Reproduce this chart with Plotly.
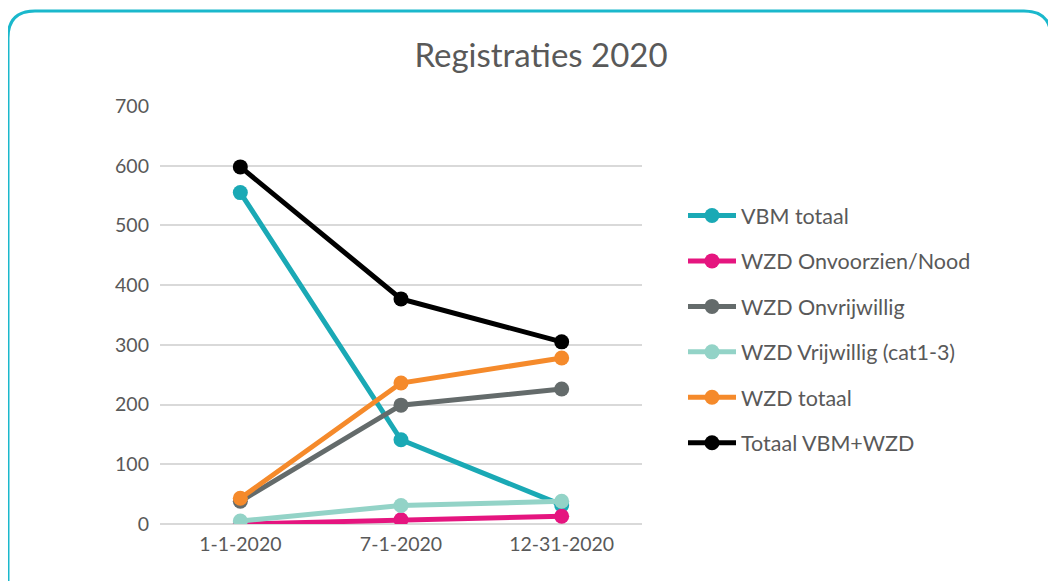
import plotly.graph_objects as go

dates = ["1-1-2020", "7-1-2020", "12-31-2020"]

vbm_totaal = [555, 141, 32]
wzd_nood = [0, 7, 13]
wzd_onvrijwillig = [38, 199, 226]
wzd_vrijwillig = [5, 31, 38]
wzd_totaal = [43, 236, 278]
totaal = [598, 377, 305]

series = [
    ("VBM totaal", vbm_totaal, "#1aa9b5"),
    ("WZD Onvoorzien/Nood", wzd_nood, "#e5157f"),
    ("WZD Onvrijwillig", wzd_onvrijwillig, "#646b6b"),
    ("WZD Vrijwillig (cat1-3)", wzd_vrijwillig, "#93d3c7"),
    ("WZD totaal", wzd_totaal, "#f58a2b"),
    ("Totaal VBM+WZD", totaal, "#000000"),
]

# page has an 8px body margin, so work in screen pixels minus 8
OFF = 8
W, H = 1056 - OFF, 581 - OFF
L, R, T, B = 160 - OFF, 642 - OFF, 106 - OFF, 524 - OFF


def px(x, y):
    # screen pixel -> paper coords
    x, y = x - OFF, y - OFF
    return (x - L) / (R - L), (B - y) / (B - T)


fig = go.Figure()
for i, (name, vals, col) in enumerate(series):
    fig.add_trace(go.Scatter(x=dates, y=vals, name=name, mode="lines+markers",
                             line=dict(color=col, width=5),
                             marker=dict(color=col, size=15),
                             legendgroup="g%d" % i))

# rounded frame
pts = [(8, 620), (8, 38), (8, 11), (35, 11), (1024, 11), (1051, 11), (1051, 38), (1051, 620)]
p = [px(*q) for q in pts]
path = "M %f,%f L %f,%f Q %f,%f %f,%f L %f,%f Q %f,%f %f,%f L %f,%f" % (
    p[0] + p[1] + p[2] + p[3] + p[4] + p[5] + p[6] + p[7])
fig.add_shape(type="path", path=path, xref="paper", yref="paper",
              line=dict(color="#1ab8cc", width=3))

fig.update_layout(
    width=W, height=H,
    margin=dict(l=L, r=W - R, t=T, b=H - B),
    paper_bgcolor="white", plot_bgcolor="white",
    font=dict(family="Lato", color="#595959", size=19.5),
    title=dict(text="Registraties 2020", x=(541 - OFF) / W, xanchor="center",
               y=1 - (55 - OFF) / H, yanchor="middle",
               font=dict(size=33, color="#595959")),
    xaxis=dict(showgrid=False, showline=False, ticks="", range=[-0.5, 2.5],
               ticklabelstandoff=6),
    yaxis=dict(range=[0, 700], dtick=100, gridcolor="#d9d9d9", gridwidth=1.5,
               zeroline=True, zerolinecolor="#d9d9d9", zerolinewidth=1.5,
               ticklabelstandoff=10),
    legend=dict(x=px(683, 0)[0], y=px(0, 195)[1], xanchor="left", yanchor="top",
                font=dict(size=21.5, color="#595959"), tracegroupgap=14.5,
                itemwidth=48, bgcolor="rgba(0,0,0,0)"),
)

fig.write_html("out.html")
